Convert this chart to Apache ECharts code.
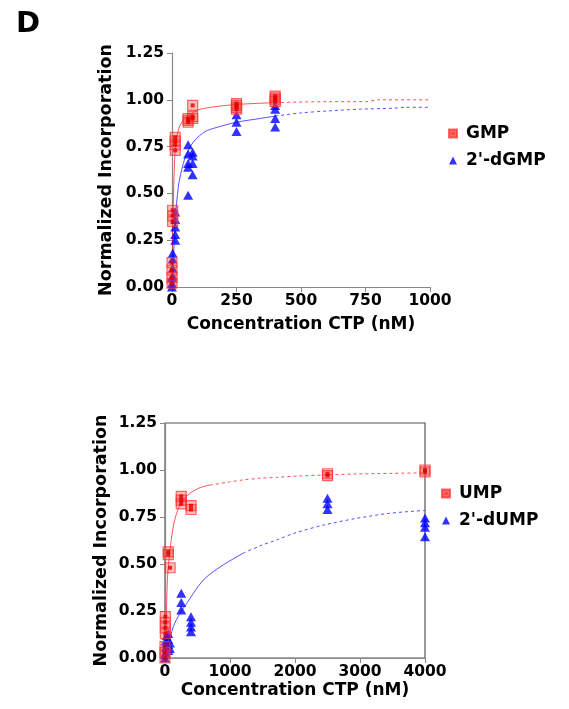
<!DOCTYPE html>
<html>
<head>
<meta charset="utf-8">
<script src="https://cdn.jsdelivr.net/npm/echarts@6/dist/echarts.min.js"></script>
<style>
html,body{margin:0;padding:0;background:#fff;}
#chart{width:569px;height:709px;}
</style>
</head>
<body>
<div id="chart"></div>
<script>
// ---------- DATA ----------
// Panel 1 (top): GMP / 2'-dGMP
const topXTicks = [0, 250, 500, 750, 1000];
const yTicks = [0, 0.25, 0.5, 0.75, 1.0, 1.25];

const gmpConc = [0, 2.5, 12.5, 62.5, 80, 250, 400];
const gmpVals = [
  [0.02, 0.05, 0.09, 0.13],
  [0.35, 0.38, 0.41],
  [0.73, 0.76, 0.78, 0.80],
  [0.88, 0.89, 0.90],
  [0.90, 0.91, 0.97],
  [0.95, 0.96, 0.97, 0.98],
  [0.99, 1.00, 1.01, 1.02]
];
const dgmpConc = [0, 2.5, 12.5, 62.5, 80, 250, 400];
const dgmpVals = [
  [0.0, 0.02, 0.05],
  [0.06, 0.10, 0.15, 0.18],
  [0.25, 0.28, 0.32, 0.36, 0.40],
  [0.49, 0.64, 0.66, 0.71, 0.76],
  [0.60, 0.66, 0.70, 0.72],
  [0.83, 0.88, 0.92],
  [0.855, 0.90, 0.95, 0.97]
];
const gmpFitX = [0, 3, 8, 14, 20, 30, 50, 100, 150, 250, 400, 600, 750, 800, 1000];
const gmpFitY = [0, 0.30, 0.60, 0.77, 0.81, 0.86, 0.90, 0.945, 0.96, 0.975, 0.985, 0.99, 0.99, 1.0, 1.0];
const dgmpFitX = [0, 5, 12, 25, 44, 63, 89, 128, 167, 250, 340, 400, 500, 600, 730, 860, 900, 1000];
const dgmpFitY = [0, 0.13, 0.34, 0.54, 0.66, 0.73, 0.785, 0.83, 0.85, 0.88, 0.90, 0.913, 0.93, 0.94, 0.95, 0.955, 0.96, 0.96];

// Panel 2 (bottom): UMP / 2'-dUMP
const botXTicks = [0, 1000, 2000, 3000, 4000];
const umpConc = [0, 5, 50, 78, 250, 400, 2500, 4000];
const umpVals = [
  [0.0, 0.03, 0.06],
  [0.13, 0.16, 0.19, 0.22],
  [0.55, 0.565],
  [0.48],
  [0.82, 0.84, 0.86],
  [0.79, 0.81],
  [0.97, 0.98],
  [0.99, 1.0]
];
const dumpConc = [0, 10, 25, 50, 75, 250, 400, 2500, 4000];
const dumpVals = [
  [0.0, 0.02],
  [0.03, 0.06, 0.09],
  [0.05, 0.08, 0.12],
  [0.04, 0.07, 0.10, 0.13],
  [0.05, 0.08],
  [0.255, 0.295, 0.345],
  [0.14, 0.165, 0.19, 0.22],
  [0.79, 0.82, 0.85],
  [0.645, 0.695, 0.72, 0.745]
];
const umpFitX = [0, 15, 36, 77, 128, 179, 256, 385, 538, 692, 950, 1200, 1460, 1720, 2050, 2440, 2950, 3460, 4000];
const umpFitY = [0, 0.10, 0.415, 0.574, 0.70, 0.77, 0.83, 0.876, 0.906, 0.92, 0.934, 0.947, 0.956, 0.961, 0.968, 0.973, 0.979, 0.982, 0.985];
const dumpFitX = [0, 50, 128, 231, 333, 436, 590, 743, 950, 1200, 1460, 1720, 2000, 2440, 2950, 3460, 4000];
const dumpFitY = [0, 0.06, 0.167, 0.238, 0.29, 0.344, 0.415, 0.459, 0.507, 0.557, 0.596, 0.628, 0.665, 0.707, 0.743, 0.77, 0.785];

// ---------- HELPERS ----------
const FONT = 'DejaVu Sans';
function flatten(conc, vals) {
  const out = [];
  conc.forEach((c, i) => vals[i].forEach(v => out.push([c, v])));
  return out;
}
function pairs(xs, ys) { return xs.map((x, i) => [x, ys[i]]); }
function splitCurve(xs, ys, split) {
  const p = pairs(xs, ys);
  let k = p.findIndex(d => d[0] >= split);
  if (k < 0) k = p.length - 1;
  return [p.slice(0, k + 1), p.slice(k)];
}

const RED_LINE = 'rgba(255,40,40,0.8)';
const BLUE_LINE = 'rgba(40,40,255,0.8)';
const squarePath = 'path://M0,0L10,0L10,10L0,10Z M1.3,1.3L1.3,8.7L8.7,8.7L8.7,1.3Z M3,3L7,3L7,7L3,7Z';

function curveSeries(idx, xs, ys, split, color) {
  const [solid, dashed] = splitCurve(xs, ys, split);
  const base = {
    type: 'line', xAxisIndex: idx, yAxisIndex: idx, showSymbol: false, symbol: 'none',
    smooth: 0.3, silent: true, z: 1
  };
  return [
    Object.assign({}, base, { data: solid, lineStyle: { color, width: 1 } }),
    Object.assign({}, base, { data: dashed, lineStyle: { color, width: 1, type: [3, 3] } })
  ];
}
function squareSeries(idx, name, data) {
  return [
    { type: 'scatter', name, xAxisIndex: idx, yAxisIndex: idx, data, symbol: 'rect', symbolSize: 10, z: 3,
      itemStyle: { color: 'rgba(255,60,60,0.42)', borderColor: 'rgba(255,50,50,0.9)', borderWidth: 1.2 } },
    { type: 'scatter', name: name + '_c', xAxisIndex: idx, yAxisIndex: idx, data, symbol: 'rect', symbolSize: 4, z: 4,
      itemStyle: { color: '#e00000' } }
  ];
}
function triSeries(idx, name, data) {
  return { type: 'scatter', name, xAxisIndex: idx, yAxisIndex: idx, data, symbol: 'triangle',
    symbolSize: [10, 9], z: 2, itemStyle: { color: '#0000ff' } };
}
function xAxis(idx, ticks, nameGap) {
  return {
    type: 'value', gridIndex: idx, min: ticks[0], max: ticks[ticks.length - 1],
    interval: ticks[1] - ticks[0],
    name: 'Concentration CTP (nM)', nameLocation: 'middle', nameGap,
    nameTextStyle: { fontFamily: FONT, fontWeight: 'bold', fontSize: 17, color: '#000' },
    axisLine: { show: true, onZero: false, lineStyle: { color: '#888', width: 1.2 } },
    axisTick: { show: true, length: 5, lineStyle: { color: '#888' } },
    axisLabel: { fontFamily: FONT, fontWeight: 'bold', fontSize: 15.5, color: '#000', margin: 6,
      formatter: v => String(v) },
    splitLine: { show: false }
  };
}
function yAxis(idx, nameGap) {
  return {
    type: 'value', gridIndex: idx, min: yTicks[0], max: yTicks[yTicks.length - 1],
    interval: yTicks[1] - yTicks[0],
    name: 'Normalized Incorporation', nameLocation: 'middle', nameGap,
    nameTextStyle: { fontFamily: FONT, fontWeight: 'bold', fontSize: 17.5, color: '#000' },
    axisLine: { show: true, onZero: false, lineStyle: { color: '#888', width: 1.2 } },
    axisTick: { show: true, length: 5, lineStyle: { color: '#888' } },
    axisLabel: { fontFamily: FONT, fontWeight: 'bold', fontSize: 15.5, color: '#000', margin: 8,
      formatter: v => v.toFixed(2) },
    splitLine: { show: false }
  };
}
function legend(left, top, names) {
  return {
    orient: 'vertical', left, top, padding: 0, itemWidth: 8, itemHeight: 8, itemGap: 10,
    selectedMode: false,
    textStyle: { fontFamily: FONT, fontWeight: 'bold', fontSize: 17, color: '#000', lineHeight: 17,
      padding: [0, 0, 0, 4] },
    data: [
      { name: names[0], icon: squarePath, itemStyle: { color: '#ff3030' } },
      { name: names[1], icon: 'triangle', itemStyle: { color: '#0000ff' } }
    ]
  };
}

const option = {
  backgroundColor: '#fff',
  animation: false,
  graphic: [{ type: 'text', left: 16, top: 10,
    style: { text: 'D', fontFamily: FONT, fontWeight: 'bold', fontSize: 29, fill: '#000' } }],
  grid: [
    { left: 172, top: 53, width: 258, height: 234 },
    { left: 165, top: 423, width: 260, height: 235, show: true, borderColor: '#555', borderWidth: 1.2,
      backgroundColor: 'transparent' }
  ],
  xAxis: [xAxis(0, topXTicks, 29), xAxis(1, botXTicks, 24)],
  yAxis: [yAxis(0, 57), yAxis(1, 55)],
  legend: [
    legend(448, 125, ['GMP', "2'-dGMP"]),
    legend(441, 485, ['UMP', "2'-dUMP"])
  ],
  series: [].concat(
    curveSeries(0, gmpFitX, gmpFitY, 400, RED_LINE),
    curveSeries(0, dgmpFitX, dgmpFitY, 400, BLUE_LINE),
    [triSeries(0, "2'-dGMP", flatten(dgmpConc, dgmpVals))],
    squareSeries(0, 'GMP', flatten(gmpConc, gmpVals)),
    curveSeries(1, umpFitX, umpFitY, 692, RED_LINE),
    curveSeries(1, dumpFitX, dumpFitY, 1200, BLUE_LINE),
    [triSeries(1, "2'-dUMP", flatten(dumpConc, dumpVals))],
    squareSeries(1, 'UMP', flatten(umpConc, umpVals))
  )
};

const chart = echarts.init(document.getElementById('chart'), null, { renderer: 'canvas' });
chart.setOption(option);
</script>
</body>
</html>
